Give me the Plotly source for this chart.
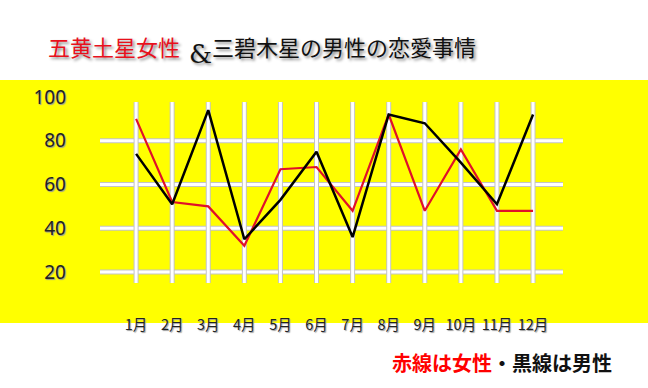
import plotly.graph_objects as go

months = ["1月", "2月", "3月", "4月", "5月", "6月", "7月", "8月", "9月", "10月", "11月", "12月"]
female = [90, 52, 50, 32, 67, 68, 48, 92, 48, 76, 48, 48]   # 五黄土星女性 (red)
male = [74, 51, 94, 35, 53, 75, 36, 92, 88, 70, 51, 92]     # 三碧木星の男性 (black)
y_ticks = [20, 40, 60, 80, 100]
y_grid = [20, 40, 60, 80]

CJK = "Noto Sans CJK JP"
x_idx = list(range(len(months)))

W, H = 648, 388
L, R, T, B = 100, 85, 97, 105
pw, ph = W - L - R, H - T - B


def px_x(x):
    return (x - L) / pw


def px_y(y):
    return 1 - (y - T) / ph


fig = go.Figure()
fig.add_trace(go.Scatter(x=x_idx, y=female, mode="lines",
                         line=dict(color="#e0102a", width=2.2), hoverinfo="skip"))
fig.add_trace(go.Scatter(x=x_idx, y=male, mode="lines",
                         line=dict(color="#000000", width=2.5), hoverinfo="skip"))

shapes = []
# yellow band
shapes.append(dict(type="rect", xref="paper", yref="paper", x0=px_x(0), x1=px_x(W),
                   y0=px_y(323), y1=px_y(80),
                   fillcolor="#ffff00", line=dict(width=0), layer="below"))
grid_top = 97.7
grid_bot = 15
for col, w in (("#c4c4c4", 5), ("#ffffff", 3)):
    for i in x_idx:
        shapes.append(dict(type="line", xref="x", yref="y", x0=i, x1=i,
                           y0=grid_bot, y1=grid_top, line=dict(color=col, width=w), layer="below"))
    for v in y_grid:
        shapes.append(dict(type="line", xref="paper", yref="y", x0=0, x1=1,
                           y0=v, y1=v, line=dict(color=col, width=w), layer="below"))

shadow = "2px 2px 3px #888"
annotations = [
    dict(text="五黄土星女性", x=114, y=46, font=dict(family=CJK, size=22, color="#e8101c", shadow=shadow)),
    dict(text="&", x=200, y=54, font=dict(family="DejaVu Serif", size=26, color="#111", shadow=shadow)),
    dict(text="三碧木星の男性の恋愛事情", x=344, y=46, font=dict(family=CJK, size=22, color="#111", shadow=shadow)),
    dict(text="<b><span style='color:#ff0000'>赤線は女性</span>・黒線は男性</b>", x=502, y=362,
         font=dict(family=CJK, size=20, color="#111")),
]
for a in annotations:
    a["x"] = px_x(a["x"])
    a["y"] = px_y(a["y"])
    a.update(xref="paper", yref="paper", showarrow=False, xanchor="center", yanchor="middle")

fig.update_layout(
    width=W, height=H,
    margin=dict(l=L, r=R, t=T, b=B, pad=0, autoexpand=False),
    paper_bgcolor="#ffffff", plot_bgcolor="rgba(0,0,0,0)",
    showlegend=False,
    shapes=shapes, annotations=annotations,
    xaxis=dict(range=[-1, 11.83], tickmode="array", tickvals=x_idx, ticktext=months,
               showgrid=False, zeroline=False, showline=False, ticks="",
               ticklabelstandoff=31,
               tickfont=dict(family=CJK, size=14.5, color="#222", shadow="1px 1px 1px #999")),
    yaxis=dict(range=[15, 100], tickmode="array", tickvals=y_ticks,
               showgrid=False, zeroline=False, showline=False, ticks="",
               ticklabelstandoff=33,
               tickfont=dict(family="Noto Sans", size=19, color="#222", shadow="1px 1px 1px #999")),
)

fig.write_html("out.html", config={"displayModeBar": False},
               post_script="document.body.style.margin='0';document.body.style.overflow='hidden';")
